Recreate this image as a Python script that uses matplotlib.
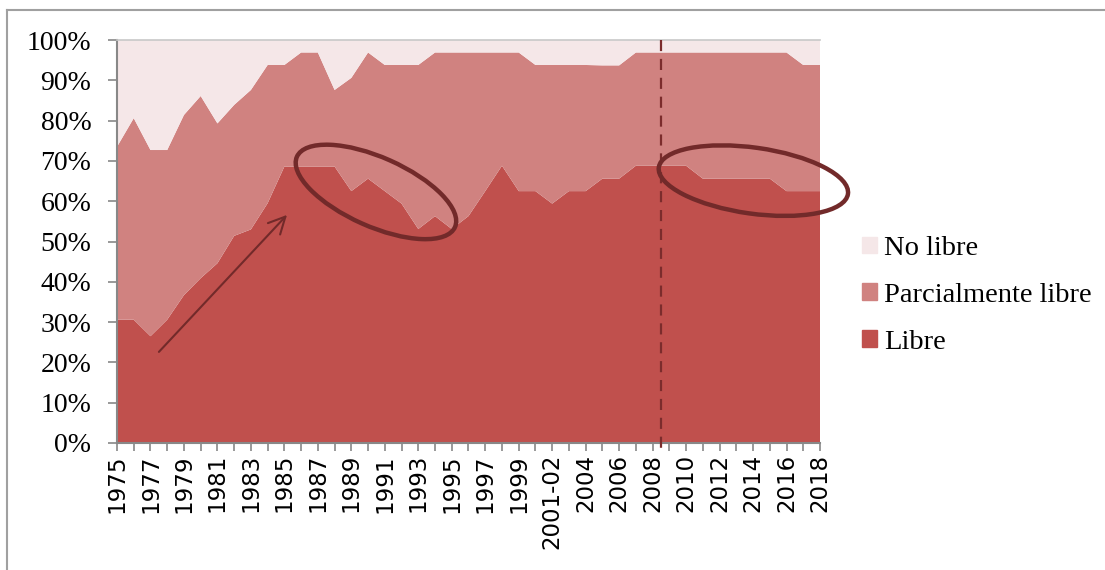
import matplotlib.pyplot as plt
import numpy as np
from matplotlib.patches import Ellipse, Rectangle
from matplotlib.transforms import ScaledTranslation
from matplotlib.lines import Line2D

# Años (el periodo 2001-02 aparece agrupado)
years = [str(y) for y in range(1975, 2001)] + ["2001-02"] + [str(y) for y in range(2003, 2019)]

# Porcentaje de países por categoría
libre = [30.6, 30.6, 26.5, 30.6, 36.7, 40.9, 44.6, 51.4, 53.0, 59.5,
         68.6, 68.6, 68.6, 68.6, 62.5, 65.6, 62.5, 59.4, 53.1, 56.3,
         53.1, 56.3, 62.5, 68.8, 62.5, 62.5, 59.4, 62.5, 62.5, 65.6,
         65.6, 68.8, 68.8, 68.8, 68.8, 65.6, 65.6, 65.6, 65.6, 65.6,
         62.5, 62.5, 62.5]
parcial = [42.9, 50.0, 46.2, 42.1, 44.7, 45.2, 34.7, 32.5, 34.6, 34.3,
           25.2, 28.3, 28.3, 19.0, 28.1, 31.3, 31.3, 34.4, 40.7, 40.6,
           43.8, 40.6, 34.4, 28.1, 34.4, 31.3, 34.4, 31.3, 31.3, 28.1,
           28.1, 28.1, 28.1, 28.1, 28.1, 31.3, 31.3, 31.3, 31.3, 31.3,
           34.4, 31.3, 31.3]
no_libre = [26.5, 19.4, 27.3, 27.3, 18.6, 13.9, 20.7, 16.1, 12.4, 6.2,
            6.2, 3.1, 3.1, 12.4, 9.4, 3.1, 6.2, 6.2, 6.2, 3.1,
            3.1, 3.1, 3.1, 3.1, 3.1, 6.2, 6.2, 6.2, 6.2, 6.2,
            6.2, 3.1, 3.1, 3.1, 3.1, 3.1, 3.1, 3.1, 3.1, 3.1,
            3.1, 6.2, 6.2]

series_labels = ["Libre", "Parcialmente libre", "No libre"]
colors = ["#C0504D", "#D08280", "#F5E7E8"]
dark = "#722A2A"

x = np.arange(len(years))
vals = np.array([libre, parcial, no_libre]) / 100.0

fig = plt.figure(figsize=(11.05, 5.7), dpi=100)
ax = fig.add_axes([117 / 1105, 1 - 443 / 570, (820 - 117) / 1105, (443 - 40) / 570])

ax.stackplot(x, vals, colors=colors, labels=series_labels, linewidth=0)

ax.set_xlim(0, len(years) - 1)
ax.set_ylim(0, 1)

ax.set_yticks(np.arange(0, 1.01, 0.1))
ax.set_yticklabels([f"{int(round(v * 100))}%" for v in np.arange(0, 1.01, 0.1)],
                   family="Liberation Serif", fontsize=20)
ax.set_xticks(x)
ax.set_xticklabels([y if i % 2 == 0 else "" for i, y in enumerate(years)],
                   rotation=90, family="DejaVu Sans", fontsize=16.5)
ax.tick_params(axis="y", length=6.5, width=1.2, color="#888888", pad=12)
ax.tick_params(axis="x", length=6, width=1.2, color="#888888", pad=2)

for side in ["left", "bottom"]:
    ax.spines[side].set_color("#888888")
    ax.spines[side].set_linewidth(1.5)
ax.spines["top"].set_color("#C8C8C8")
ax.spines["top"].set_linewidth(1.2)
ax.spines["right"].set_visible(False)

# Línea discontinua entre 2008 y 2009
ax.plot([32.5, 32.5], [1.0, -0.03], color="#7B2C2C", lw=1.6,
        linestyle=(0, (5, 3.5)), clip_on=False, zorder=5)

# Flecha de la tendencia inicial
ax.annotate("", xy=(10.27, 0.571), xytext=(2.39, 0.221),
            arrowprops=dict(arrowstyle="->", color=dark, lw=1.5,
                            mutation_scale=30))

# Elipses resaltando los retrocesos
for cx, cy, w, h, ang in [(15.47, 0.623, 1.73, 0.69, -24),
                          (38.02, 0.651, 1.91, 0.66, -8)]:
    tr = fig.dpi_scale_trans + ScaledTranslation(cx, cy, ax.transData)
    ax.add_patch(Ellipse((0, 0), w, h, angle=ang, transform=tr, fill=False,
                         edgecolor=dark, lw=3.2, clip_on=False, zorder=6))

# Leyenda
handles = [Rectangle((0, 0), 1, 1, color=c) for c in colors[::-1]]
leg = fig.legend(handles, series_labels[::-1], loc="upper left",
                 bbox_to_anchor=(862 / 1105, 1 - 236 / 570), frameon=False,
                 prop={"family": "Liberation Serif", "size": 20.5},
                 handlelength=0.53, handleheight=0.53, handletextpad=0.25,
                 labelspacing=0.77, borderpad=0, borderaxespad=0)

# Marco exterior
fig.add_artist(Line2D([7 / 1105, 7 / 1105], [0, 1 - 10 / 570],
                      transform=fig.transFigure, color="#A0A0A0", lw=1.5))
fig.add_artist(Line2D([7 / 1105, 1], [1 - 10 / 570, 1 - 10 / 570],
                      transform=fig.transFigure, color="#A0A0A0", lw=1.5))

fig.savefig("out.png", dpi=100)
